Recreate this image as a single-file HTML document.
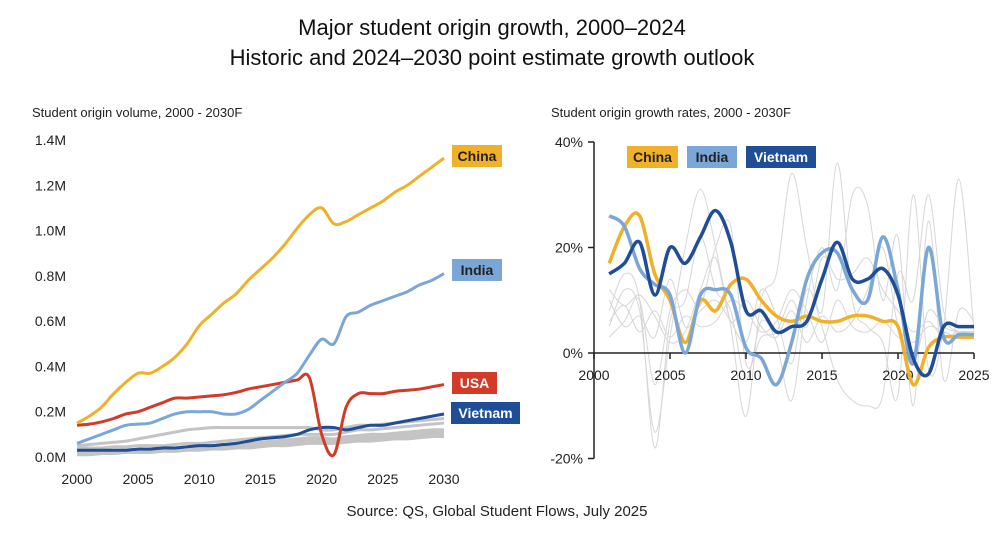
<!DOCTYPE html>
<html><head><meta charset="utf-8"><style>
body{margin:0;width:1000px;height:533px;background:#fff;font-family:"Liberation Sans",sans-serif;overflow:hidden}
</style></head><body>
<svg width="1000" height="533" style="font-family:'Liberation Sans',sans-serif">
<text x="492" y="35" text-anchor="middle" font-size="22" fill="#111">Major student origin growth, 2000–2024</text>
<text x="492" y="65" text-anchor="middle" font-size="22" fill="#111">Historic and 2024–2030 point estimate growth outlook</text>
<text x="32" y="117" font-size="13" fill="#222">Student origin volume, 2000 - 2030F</text>
<text x="551" y="117" font-size="13" fill="#222">Student origin growth rates, 2000 - 2030F</text>
<text x="497" y="516" text-anchor="middle" font-size="15" fill="#222">Source: QS, Global Student Flows, July 2025</text>
<g id="left"></g><g id="right"></g>
</svg>
<script>
const volYears=[2000,2001,2002,2003,2004,2005,2006,2007,2008,2009,2010,2011,2012,2013,2014,2015,2016,2017,2018,2019,2020,2021,2022,2023,2024,2025,2026,2027,2028,2029,2030];
const volChina=[0.15,0.18,0.22,0.28,0.33,0.37,0.37,0.40,0.44,0.50,0.58,0.63,0.68,0.72,0.78,0.83,0.88,0.94,1.01,1.07,1.10,1.03,1.04,1.07,1.10,1.13,1.17,1.20,1.24,1.28,1.32];
const volIndia=[0.06,0.08,0.10,0.12,0.14,0.145,0.15,0.17,0.19,0.20,0.20,0.20,0.19,0.19,0.21,0.25,0.29,0.33,0.37,0.45,0.52,0.50,0.62,0.64,0.67,0.69,0.71,0.73,0.76,0.78,0.81];
const volUSA=[0.14,0.145,0.155,0.17,0.19,0.20,0.22,0.24,0.26,0.26,0.265,0.27,0.275,0.285,0.30,0.31,0.32,0.33,0.34,0.35,0.10,0.01,0.22,0.28,0.28,0.28,0.29,0.295,0.30,0.31,0.32];
const volVietnam=[0.03,0.03,0.03,0.03,0.03,0.035,0.035,0.04,0.04,0.045,0.05,0.05,0.055,0.06,0.07,0.08,0.085,0.09,0.10,0.12,0.13,0.13,0.12,0.13,0.14,0.14,0.15,0.16,0.17,0.18,0.19];
const volGray=[
[0.05,0.055,0.06,0.065,0.07,0.08,0.09,0.10,0.11,0.12,0.125,0.13,0.13,0.13,0.13,0.13,0.13,0.13,0.13,0.13,0.12,0.12,0.13,0.14,0.14,0.145,0.15,0.155,0.16,0.165,0.17],
[0.04,0.04,0.04,0.045,0.045,0.05,0.05,0.05,0.055,0.06,0.06,0.065,0.07,0.075,0.08,0.085,0.09,0.095,0.10,0.10,0.10,0.10,0.11,0.12,0.12,0.125,0.13,0.135,0.14,0.145,0.15],
[0.03,0.03,0.03,0.03,0.03,0.03,0.035,0.04,0.04,0.045,0.05,0.05,0.055,0.06,0.06,0.065,0.07,0.075,0.08,0.085,0.085,0.08,0.09,0.095,0.10,0.10,0.105,0.11,0.115,0.12,0.12],
[0.02,0.02,0.02,0.02,0.025,0.025,0.03,0.03,0.03,0.035,0.04,0.04,0.045,0.05,0.05,0.055,0.06,0.06,0.065,0.07,0.07,0.07,0.075,0.08,0.08,0.085,0.09,0.09,0.095,0.10,0.10],
[0.01,0.01,0.015,0.015,0.02,0.02,0.02,0.025,0.025,0.03,0.03,0.035,0.035,0.04,0.04,0.045,0.05,0.05,0.055,0.06,0.06,0.06,0.065,0.07,0.07,0.075,0.08,0.08,0.085,0.09,0.09],
[0.02,0.02,0.025,0.03,0.03,0.03,0.03,0.035,0.035,0.04,0.045,0.05,0.05,0.055,0.06,0.065,0.07,0.07,0.075,0.08,0.075,0.07,0.08,0.085,0.09,0.09,0.095,0.10,0.105,0.11,0.11]];
const volTicks=[0,0.2,0.4,0.6,0.8,1.0,1.2,1.4];
const volTickLabels=["0.0M","0.2M","0.4M","0.6M","0.8M","1.0M","1.2M","1.4M"];
const volXTicks=[2000,2005,2010,2015,2020,2025,2030];

const grYears=[2001,2002,2003,2004,2005,2006,2007,2008,2009,2010,2011,2012,2013,2014,2015,2016,2017,2018,2019,2020,2021,2022,2023,2024,2025];
const grChina=[17,24,26,15,10,2,10,8,13,14,10,7,6,7,6,6,7,7,6,5,-6,1,3,3,3];
const grIndia=[26,24,16,13,11,0,11,12,11,1,-1,-6,2,14,19,19,12,10,22,12,-2,20,3,3.5,3.5];
const grVietnam=[15,17,21,11,20,17,22,27,21,8,8,4,5,6,14,21,14,14,16,11,-1,-4,5,5,5];
const grGray=[
[5,12,8,-15,3,20,31,20,5,-12,10,15,34,20,8,36,10,5,2,-8,30,-3,5,33,4],
[8,15,10,-18,6,10,22,12,8,-5,6,2,-9,10,20,12,30,28,10,22,-10,25,-5,8,6],
[3,6,10,-6,8,12,9,20,24,-2,3,4,10,5,18,14,15,18,12,8,4,6,3,4,4],
[10,5,7,3,14,5,8,10,6,2,12,7,-2,12,5,-5,-9,-10,-8,15,10,30,8,4,3],
[6,9,4,8,3,7,5,6,10,8,4,6,12,8,2,10,5,4,6,3,2,5,4,3,3],
[12,9,11,7,2,4,12,18,6,10,5,3,8,2,7,4,6,12,20,5,-2,8,5,4,4]];
const grTicks=[-20,0,20,40];
const grXTicks=[2000,2005,2010,2015,2020,2025];

const NS="http://www.w3.org/2000/svg";
function mk(tag,attrs,parent){const e=document.createElementNS(NS,tag);for(const k in attrs)e.setAttribute(k,attrs[k]);parent.appendChild(e);return e;}
function smooth(pts){let d="M"+pts[0][0]+","+pts[0][1];for(let i=0;i<pts.length-1;i++){const p0=pts[Math.max(0,i-1)],p1=pts[i],p2=pts[i+1],p3=pts[Math.min(pts.length-1,i+2)];const c1=[p1[0]+(p2[0]-p0[0])/6,p1[1]+(p2[1]-p0[1])/6],c2=[p2[0]-(p3[0]-p1[0])/6,p2[1]-(p3[1]-p1[1])/6];d+=" C"+c1[0]+","+c1[1]+" "+c2[0]+","+c2[1]+" "+p2[0]+","+p2[1];}return d;}

// Left chart
const L=document.getElementById('left');
const lx=y=>77+(y-2000)*(444-77)/30;
const ly=v=>457-v*(457-140)/1.4;
volTicks.forEach((t,i)=>{const e=mk('text',{x:66,y:ly(t)+5,'text-anchor':'end','font-size':14,fill:'#222'},L);e.textContent=volTickLabels[i];

});
volXTicks.forEach(t=>{const e=mk('text',{x:lx(t),y:484,'text-anchor':'middle','font-size':14,fill:'#222'},L);e.textContent=t;

});
function volLine(arr,color,w,name){const p=mk('path',{d:smooth(arr.map((v,i)=>[lx(volYears[i]),ly(v)])),fill:'none',stroke:color,'stroke-width':w,'stroke-linejoin':'round'},L);

}
volGray.forEach(a=>volLine(a,'#c4c4c4',3,'volume-line-other'));
volLine(volVietnam,'#1f4e96',3,'volume-line-vietnam');
volLine(volUSA,'#d13b27',3,'volume-line-usa');
volLine(volIndia,'#7aa6d8',3,'volume-line-india');
volLine(volChina,'#f0b02a',3,'volume-line-china');
function label(g,x,y,w,txt,bg,fg,name){const r=mk('g',{},g);


mk('rect',{x:x,y:y,width:w,height:22,fill:bg},r);const t=mk('text',{x:x+w/2,y:y+16,'text-anchor':'middle','font-size':14,'font-weight':'bold',fill:fg},r);t.textContent=txt;}
label(L,452,145,50,'China','#f0b02a','#222','label-china');
label(L,452,259,50,'India','#7aa6d8','#222','label-india');
label(L,452,372,45,'USA','#d13b27','#fff','label-usa');
label(L,451,402,69,'Vietnam','#1f4e96','#fff','label-vietnam');

// Right chart
const R=document.getElementById('right');
const rx=y=>594+(y-2000)*(974-594)/25;
const ry=v=>353-v*(353-142)/40;
mk('line',{x1:594,y1:ry(40),x2:594,y2:ry(-20),stroke:'#222','stroke-width':1.5},R);
grTicks.forEach(t=>{mk('line',{x1:588,x2:594,y1:ry(t),y2:ry(t),stroke:'#222','stroke-width':1.5},R);const e=mk('text',{x:583,y:ry(t)+5,'text-anchor':'end','font-size':14,fill:'#222'},R);e.textContent=t+'%';

});
grGray.forEach(a=>{const p=mk('path',{d:smooth(a.map((v,i)=>[rx(grYears[i]),ry(v)])),fill:'none',stroke:'#d6d6d6','stroke-width':1},R);

});
mk('line',{x1:594,y1:ry(0),x2:974,y2:ry(0),stroke:'#222','stroke-width':1.5},R);
grXTicks.forEach(t=>{mk('line',{x1:rx(t),x2:rx(t),y1:ry(0),y2:ry(0)+6,stroke:'#222','stroke-width':1.5},R);const e=mk('text',{x:rx(t),y:380,'text-anchor':'middle','font-size':14,fill:'#222'},R);e.textContent=t;

});
function grLine(arr,color,name){const p=mk('path',{d:smooth(arr.map((v,i)=>[rx(grYears[i]),ry(v)])),fill:'none',stroke:color,'stroke-width':3.5,'stroke-linejoin':'round'},R);

}
grLine(grChina,'#f0b02a','growth-line-china');
grLine(grIndia,'#7aa6d8','growth-line-india');
grLine(grVietnam,'#1f4e96','growth-line-vietnam');
label(R,627,146,51,'China','#f0b02a','#222','legend-china');
label(R,687,146,50,'India','#7aa6d8','#222','legend-india');
label(R,746,146,70,'Vietnam','#1f4e96','#fff','legend-vietnam');
</script>
</body></html>
